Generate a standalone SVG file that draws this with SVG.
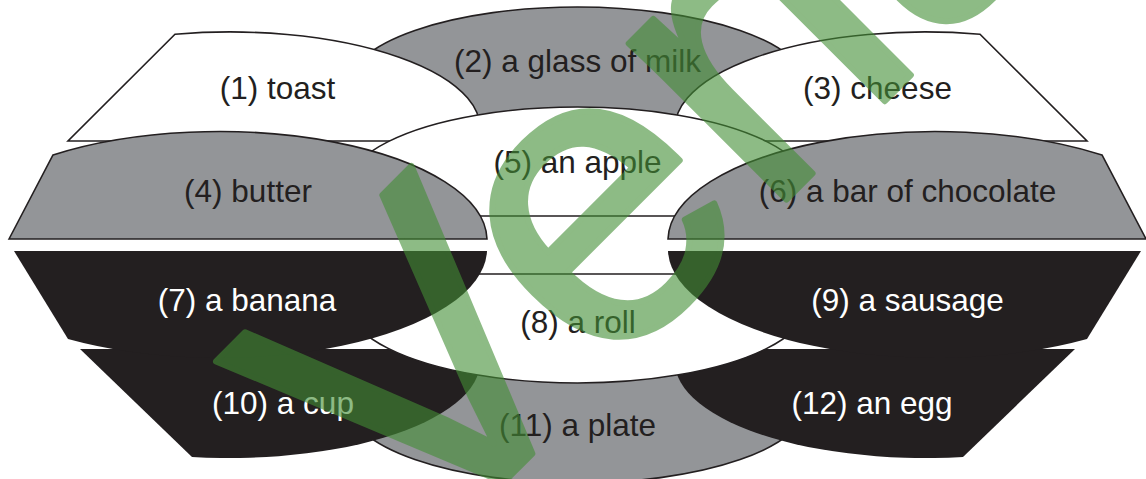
<svg xmlns="http://www.w3.org/2000/svg" width="1146" height="479" viewBox="0 0 1146 479">
<style>
.w{fill:#ffffff;stroke:#231f20;stroke-width:1.6}
.g{fill:#939598;stroke:#231f20;stroke-width:1.6}
.k{fill:#231f20;stroke:none}
text{font-family:"Liberation Sans",Arial,sans-serif;font-size:31.5px;text-anchor:middle;fill:#231f20}
text.wt{fill:#ffffff}
.wm{font-size:420px;text-anchor:start;fill:#438e35;stroke:#438e35;stroke-width:6;stroke-linejoin:round}
</style>
<defs>
<path id="toastShape" d="M175,34.3 A250,96 0 0 1 477.7,141 L68,141 Z"/>
<path id="butterShape" d="M9,239 L53,155 A268,109 0 0 1 487,239 Z"/>
<path id="cupShape" d="M80,349 L192,456.9 A250,96 0 0 0 477.7,349 Z"/>
<path id="bananaShape" d="M14,251 L68,339 A268,109 0 0 0 487,251 Z"/>
</defs>
<rect x="0" y="0" width="1146" height="479" fill="#ffffff"/>
<g id="node2"><ellipse class="g" cx="577.5" cy="87" rx="230" ry="80"/><text x="577.5" y="72">(2) a glass of milk</text></g>
<g id="node1"><use href="#toastShape" class="w"/><text x="277.5" y="99">(1) toast</text></g>
<g id="node3"><use href="#toastShape" class="w" transform="translate(1155,0) scale(-1,1)"/><text x="877.5" y="99">(3) cheese</text></g>
<g id="node5"><path class="w" d="M363.1,216 A230,80 0 1 1 791.9,216 Z"/><text x="577.5" y="173">(5) an apple</text></g>
<g id="node4"><use href="#butterShape" class="g"/><text x="248" y="202">(4) butter</text></g>
<g id="node6"><use href="#butterShape" class="g" transform="translate(1155,0) scale(-1,1)"/><text x="907.5" y="202">(6) a bar of chocolate</text></g>
<g id="node11"><ellipse class="g" cx="577.5" cy="403" rx="230" ry="80"/><text x="577.5" y="436">(11) a plate</text></g>
<g id="node10"><use href="#cupShape" class="k"/><text class="wt" x="283" y="413.5">(10) a cup</text></g>
<g id="node12"><use href="#cupShape" class="k" transform="translate(1155,0) scale(-1,1)"/><text class="wt" x="872" y="413.5">(12) an egg</text></g>
<g id="node8"><path class="w" d="M363.1,274 A230,80 0 1 0 791.9,274 Z"/><text x="578" y="333">(8) a roll</text></g>
<g id="node7"><use href="#bananaShape" class="k"/><text class="wt" x="247" y="311">(7) a banana</text></g>
<g id="node9"><use href="#bananaShape" class="k" transform="translate(1155,0) scale(-1,1)"/><text class="wt" x="907.5" y="311">(9) a sausage</text></g>
<g id="connectors"></g>
<g id="watermark" opacity="0.6"><text class="wm" x="419" y="567" transform="rotate(-45 419 567)">Verlag</text></g>
</svg>
